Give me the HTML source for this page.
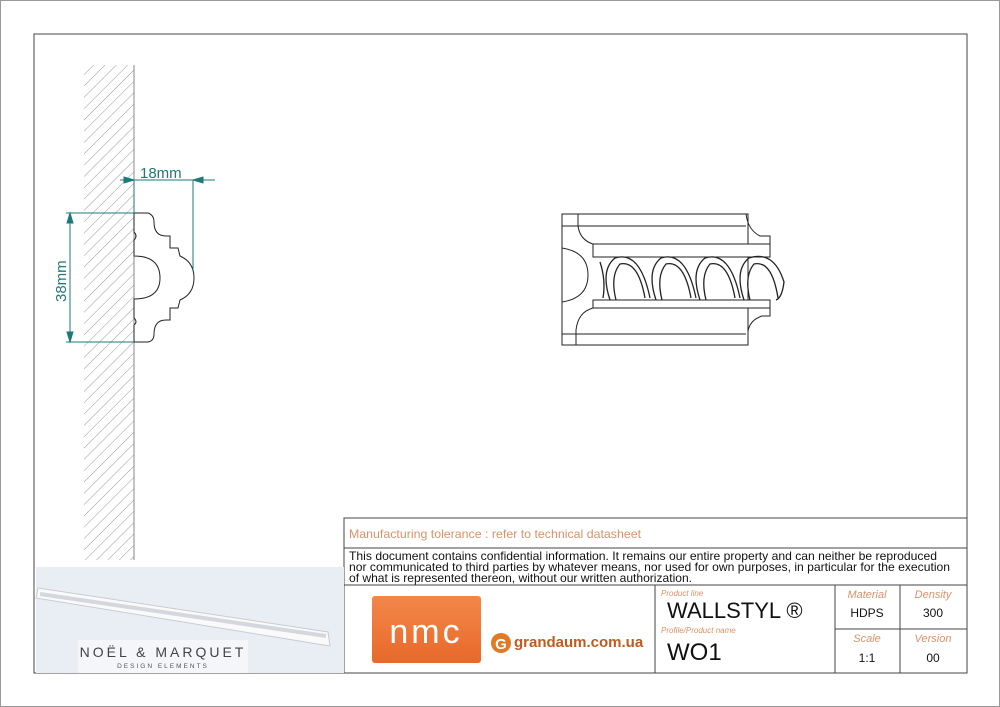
<!DOCTYPE html>
<html><head><meta charset="utf-8"><style>
html,body{margin:0;padding:0;background:#fff;}
svg{display:block;font-family:"Liberation Sans",sans-serif;}
</style></head><body>
<svg width="1000" height="707" viewBox="0 0 1000 707" xmlns="http://www.w3.org/2000/svg">
<defs>
<pattern id="h" width="8" height="8" patternUnits="userSpaceOnUse" patternTransform="rotate(45)">
<line x1="0" y1="0" x2="0" y2="8" stroke="#999" stroke-width="1"/></pattern>
<linearGradient id="og" x1="0" y1="0" x2="0" y2="1"><stop offset="0" stop-color="#f2874a"/><stop offset="1" stop-color="#e8692a"/></linearGradient>
</defs>
<rect x="0.5" y="0.5" width="999" height="706" fill="#fff" stroke="#999"/>
<rect x="34" y="34" width="933" height="639" fill="none" stroke="#444" stroke-width="1"/>
<rect x="84" y="65" width="50" height="495" fill="url(#h)"/>
<line x1="134" y1="65" x2="134" y2="560" stroke="#888"/>
<path d="M134,213 L148,213 Q154,215 154,222 Q154,236 166,236 L170,236 L170,248 L178,248 L180,256 Q194,262 194,278 Q194,294 180,300 L178,308 L170,308 L170,320 L166,320 Q154,320 154,334 Q154,341 148,342 L134,342 L134,325 Q138,322 134,318 L134,299 Q160,299 160,278 Q160,256 134,256 L134,240 Q138,236 134,232 Z" fill="#fff" stroke="#222" stroke-width="1"/>
<g stroke="#1d7a78" fill="#1d7a78">
<line x1="120" y1="180" x2="215" y2="180"/>
<line x1="193" y1="180" x2="193" y2="270"/>
<line x1="134" y1="180" x2="134" y2="213"/>
<polygon points="134,180 124,177 124,183"/><polygon points="193,180 203,177 203,183"/>
<line x1="66" y1="213" x2="134" y2="213"/><line x1="66" y1="342" x2="134" y2="342"/>
<line x1="70" y1="213" x2="70" y2="342"/>
<polygon points="70,213 67,223 73,223"/><polygon points="70,342 67,332 73,332"/>
</g>
<text x="140" y="178" font-size="15" fill="#1d7a78">18mm</text>
<text x="66" y="302" font-size="15" fill="#1d7a78" transform="rotate(-90 66 302)">38mm</text>
<g fill="#fff" stroke="#222" stroke-width="1">
<path d="M562,214 L746,214 Q748,230 760,236 L770,236 L770,244 L593,244 Q580,240 578,226 L578,214" fill="none"/>
<path d="M562,214 L562,345 L748,345 L748,331 Q750,320 762,316 L770,316 L770,308 L593,308 Q578,312 576,330 L576,345"/>
<rect x="562" y="214" width="186" height="131" fill="none"/>
<line x1="562" y1="226" x2="746" y2="226"/>
<line x1="562" y1="334" x2="746" y2="334"/>
<path d="M562,248 Q588,252 588,275 Q588,298 562,302" fill="none"/>
<rect x="593" y="244" width="177" height="13"/>
<rect x="593" y="300" width="177" height="8"/>
</g>
<g fill="none" stroke="#222" stroke-width="1.3">
<path d="M610,300 Q600,270 615,258 Q640,250 650,298"/><path d="M616,300 Q610,276 620,264 Q638,260 645,298"/>
<path d="M656,300 Q646,270 661,258 Q686,250 696,298"/><path d="M662,300 Q656,276 666,264 Q684,260 691,298"/>
<path d="M700,300 Q690,270 705,258 Q730,250 740,298"/><path d="M706,300 Q700,276 710,264 Q728,260 735,298"/>
<path d="M744,300 Q734,270 749,258 Q774,250 784,282 Q782,298 776,300"/><path d="M750,300 Q744,276 754,264 Q772,260 778,298"/>
<path d="M600,262 Q606,280 603,298"/>
</g>
<g stroke="#444" fill="none">
<rect x="344" y="518" width="623" height="155"/>
<line x1="344" y1="548" x2="967" y2="548"/>
<line x1="344" y1="585" x2="967" y2="585"/>
<line x1="655" y1="585" x2="655" y2="673"/>
<line x1="835" y1="585" x2="835" y2="673"/>
<line x1="900" y1="585" x2="900" y2="673"/>
<line x1="835" y1="629" x2="967" y2="629"/>
</g>
<text x="349" y="538" font-size="12" fill="#d8926a" textLength="292" lengthAdjust="spacingAndGlyphs">Manufacturing tolerance : refer to technical datasheet</text>
<g font-size="12" fill="#111">
<text x="349" y="560" textLength="588" lengthAdjust="spacingAndGlyphs">This document contains confidential information. It remains our entire property and can neither be reproduced</text>
<text x="349" y="571" textLength="601" lengthAdjust="spacingAndGlyphs">nor communicated to third parties by whatever means, nor used for own purposes, in particular for the execution</text>
<text x="349" y="582" textLength="343" lengthAdjust="spacingAndGlyphs">of what is represented thereon, without our written authorization.</text>
</g>
<rect x="372" y="596" width="109" height="67" rx="3" fill="url(#og)"/>
<text x="426" y="643" font-size="34" fill="#fff" text-anchor="middle" letter-spacing="3">nmc</text>
<circle cx="501" cy="643" r="10" fill="#e07a24"/>
<text x="501" y="649" font-size="15" font-weight="bold" fill="#fff" text-anchor="middle">G</text>
<text x="514" y="647" font-size="15" fill="#c25a20" font-weight="bold">grandaum.com.ua</text>
<text x="661" y="596" font-size="8" fill="#d8926a" font-style="italic">Product line</text>
<text x="667" y="618" font-size="22" fill="#111">WALLSTYL ®</text>
<text x="661" y="633" font-size="8" fill="#d8926a" font-style="italic">Profile/Product name</text>
<text x="667" y="660" font-size="24" fill="#111">WO1</text>
<g font-size="11" text-anchor="middle">
<text x="867" y="598" fill="#d8926a" font-style="italic">Material</text>
<text x="867" y="617" fill="#111" font-size="12">HDPS</text>
<text x="933" y="598" fill="#d8926a" font-style="italic">Density</text>
<text x="933" y="617" fill="#111" font-size="12">300</text>
<text x="867" y="642" fill="#d8926a" font-style="italic">Scale</text>
<text x="867" y="662" fill="#111" font-size="12">1:1</text>
<text x="933" y="642" fill="#d8926a" font-style="italic">Version</text>
<text x="933" y="662" fill="#111" font-size="12">00</text>
</g>
<rect x="36" y="567" width="308" height="106" fill="#e9eef5"/>
<path d="M38,588 L328,632 L330,646 L36,598 Z" fill="#fafafa" stroke="#c8ccd2"/>
<path d="M40,594 L326,636" stroke="#d4d8de" stroke-width="4"/>
<rect x="78" y="640" width="170" height="33" fill="#f4f6fa"/>
<text x="163" y="657" font-size="14" fill="#444" text-anchor="middle" letter-spacing="3">NOËL &amp; MARQUET</text>
<text x="163" y="668" font-size="6.5" fill="#555" text-anchor="middle" letter-spacing="2">DESIGN ELEMENTS</text>
</svg>
</body></html>
